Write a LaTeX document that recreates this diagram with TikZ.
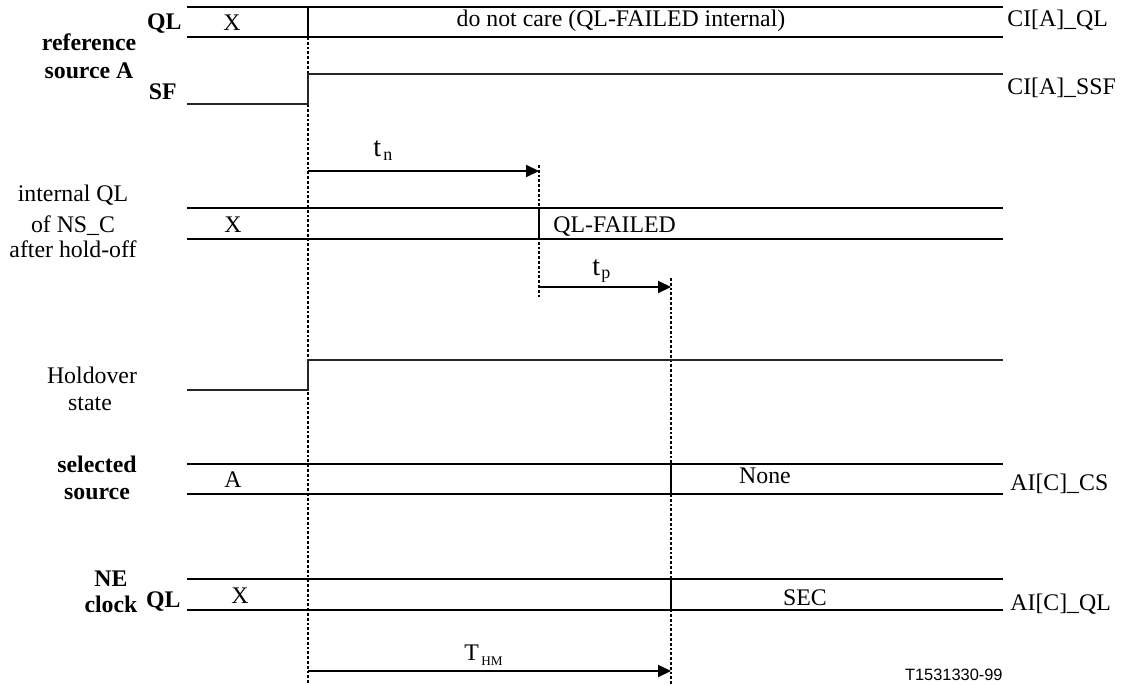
\documentclass[tikz,border=0pt]{standalone}
\usepackage{fontspec}
\setmainfont{Liberation Serif}
\newfontfamily\figsans{Liberation Sans}
\usetikzlibrary{arrows.meta}
\begin{document}
\begin{tikzpicture}[x=0.5pt,y=-0.5pt,
  bus/.style={line width=1.05pt},
  sig/.style={line width=0.75pt, black!85},
  guide/.style={line width=1.2pt, dash pattern=on 1.4pt off 1pt},
  timearrow/.style={line width=1pt, -{Triangle[length=6.5pt,width=6pt]}},
  lbl/.style={inner sep=0pt, anchor=base, font=\fontsize{11.9}{14}\selectfont},
  blbl/.style={inner sep=0pt, anchor=base, font=\fontsize{11.9}{14}\selectfont\bfseries},
  bigt/.style={inner sep=0pt, anchor=base west, font=\fontsize{14}{15}\selectfont},
  subt/.style={inner sep=0pt, anchor=base west, font=\fontsize{9}{10}\selectfont},
  subhm/.style={inner sep=0pt, anchor=base west, font=\fontsize{6.6}{8}\selectfont},
]
\useasboundingbox (0,0) rectangle (1125,685);

% ---------- coordinates ----------
% reference source A, QL bus
\coordinate (qa1) at (187,7);   \coordinate (qa2) at (1003,7);
\coordinate (qb1) at (187,37);  \coordinate (qb2) at (1003,37);
\coordinate (qt1) at (308,7);   \coordinate (qt2) at (308,37);
% SF signal
\coordinate (sf1) at (187,104); \coordinate (sf2) at (308,104);
\coordinate (sf3) at (308,74);  \coordinate (sf4) at (1003,74);
% guides
\coordinate (d1t) at (308,37);  \coordinate (d1b) at (308,685);
\coordinate (d2t) at (539,165); \coordinate (d2b) at (539,298);
\coordinate (d3t) at (671,278); \coordinate (d3b) at (671,685);
% t_n arrow
\coordinate (tn1) at (308,171); \coordinate (tn2) at (539,171);
% internal QL bus
\coordinate (ia1) at (187,208); \coordinate (ia2) at (1003,208);
\coordinate (ib1) at (187,239); \coordinate (ib2) at (1003,239);
\coordinate (it1) at (539,208); \coordinate (it2) at (539,239);
% t_p arrow
\coordinate (tp1) at (539,287); \coordinate (tp2) at (671,287);
% Holdover
\coordinate (ho1) at (187,390); \coordinate (ho2) at (308,390);
\coordinate (ho3) at (308,360); \coordinate (ho4) at (1003,360);
% selected source bus
\coordinate (sa1) at (187,464); \coordinate (sa2) at (1003,464);
\coordinate (sb1) at (187,494); \coordinate (sb2) at (1003,494);
\coordinate (st1) at (671,464); \coordinate (st2) at (671,494);
% NE clock QL bus
\coordinate (na1) at (187,579); \coordinate (na2) at (1003,579);
\coordinate (nb1) at (187,610); \coordinate (nb2) at (1003,610);
\coordinate (nt1) at (671,579); \coordinate (nt2) at (671,610);
% T_HM arrow
\coordinate (th1) at (308,671); \coordinate (th2) at (671,671);

% ---------- guides ----------
\draw[guide] (d1t) -- (d1b);
\draw[guide] (d2t) -- (d2b);
\draw[guide] (d3t) -- (d3b);

% ---------- signals ----------
\draw[bus] (qa1) -- (qa2);
\draw[bus] (qb1) -- (qb2);
\draw[bus] (qt1) -- (qt2);
\draw[sig] (sf1) -- (sf2) -- (sf3) -- (sf4);

\draw[bus] (ia1) -- (ia2);
\draw[bus] (ib1) -- (ib2);
\draw[bus] (it1) -- (it2);

\draw[sig] (ho1) -- (ho2) -- (ho3) -- (ho4);

\draw[bus] (sa1) -- (sa2);
\draw[bus] (sb1) -- (sb2);
\draw[bus] (st1) -- (st2);

\draw[bus] (na1) -- (na2);
\draw[bus] (nb1) -- (nb2);
\draw[bus] (nt1) -- (nt2);

\draw[timearrow] (tn1) -- (tn2);
\draw[timearrow] (tp1) -- (tp2);
\draw[timearrow] (th1) -- (th2);

% ---------- left labels ----------
\node[blbl] (refa) at (89,50) {reference};
\node[blbl] (refb) at (89,78) {source A};
\node[blbl, anchor=base east] (qllbl) at (182,29) {QL};
\node[blbl, anchor=base east] (sflbl) at (177,99) {SF};
\node[lbl] (inta) at (73,201) {internal QL};
\node[lbl] (intb) at (73,232) {of NS\_C};
\node[lbl] (intc) at (73,257) {after hold-off};
\node[lbl] (hoa) at (92,383) {Holdover};
\node[lbl] (hob) at (90,410) {state};
\node[blbl] (sela) at (97,472) {selected};
\node[blbl] (selb) at (97,499) {source};
\node[blbl] (nea) at (111,586) {NE};
\node[blbl] (neb) at (111,612) {clock};
\node[blbl, anchor=base east] (neql) at (181,607) {QL};

% ---------- bus values ----------
\node[lbl] (xa) at (232,30) {X};
\node[lbl] (dnc) at (621,26) {do not care (QL-FAILED internal)};
\node[lbl] (xb) at (233,232) {X};
\node[lbl, anchor=base west] (qlf) at (553,232) {QL-FAILED};
\node[lbl] (srcA) at (233,487) {A};
\node[lbl] (none) at (765,483) {None};
\node[lbl] (xc) at (240,603) {X};
\node[lbl] (sec) at (805,605) {SEC};

% ---------- right labels ----------
\node[lbl, anchor=base west] (ciql) at (1007,26) {CI[A]\_QL};
\node[lbl, anchor=base west] (cissf) at (1007,94) {CI[A]\_SSF};
\node[lbl, anchor=base west] (aics) at (1010,490) {AI[C]\_CS};
\node[lbl, anchor=base west] (aiql) at (1010,610) {AI[C]\_QL};
\node[inner sep=0pt, anchor=base east, font=\figsans\fontsize{8.2}{10}\selectfont] (figid) at (1003,680) {T1531330-99};

% ---------- time labels ----------
\node[bigt] (tnt) at (373,156) {t};
\node[subt] (tns) at (383,160) {n};
\node[bigt] (tpt) at (592,275) {t};
\node[subt] (tps) at (601,278) {p};
\node[lbl, anchor=base west] (tht) at (464,660) {T};
\node[subhm] (ths) at (481,665) {HM};
\end{tikzpicture}
\end{document}
